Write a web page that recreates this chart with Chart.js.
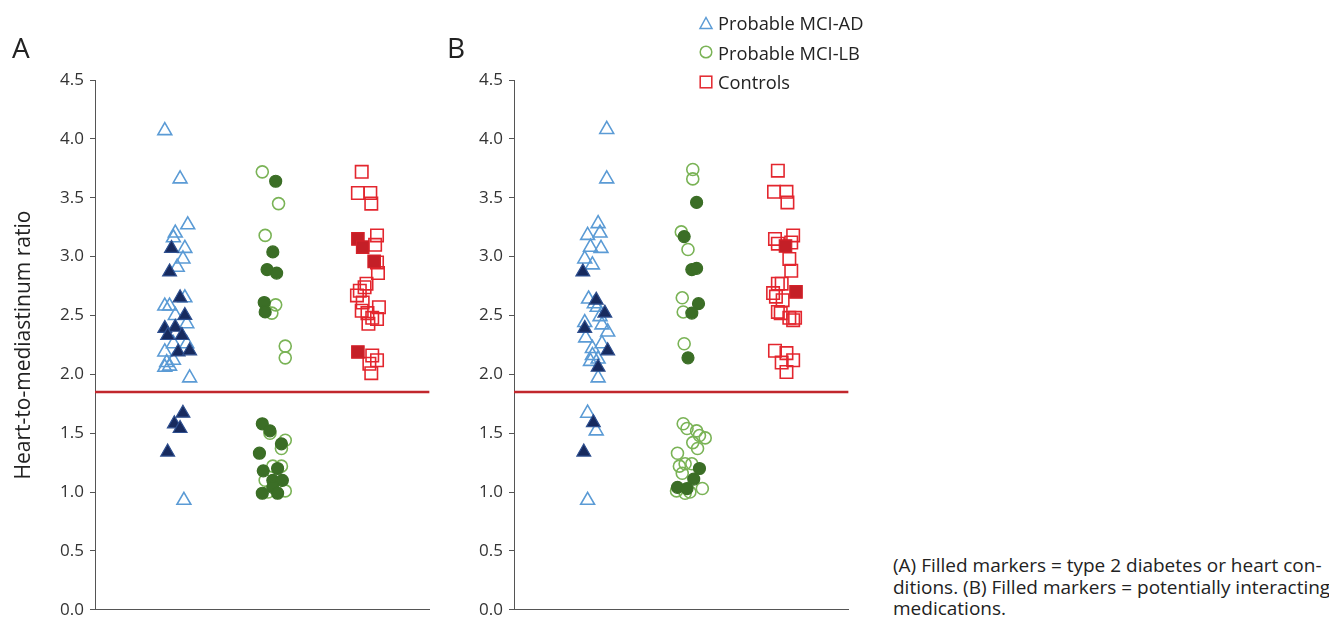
<!DOCTYPE html>
<html><head><meta charset="utf-8">
<script src="https://cdn.jsdelivr.net/npm/chart.js@4.4.1/dist/chart.umd.min.js"></script>
<style>
html,body{margin:0;padding:0;background:#fff;}
body{width:1329px;height:617px;position:relative;overflow:hidden;font-family:"Open Sans",sans-serif;color:#222;}
canvas{position:absolute;top:0;}
#cA{left:0;}
#cB{left:419px;}
.panel{position:absolute;top:30px;font-size:28px;line-height:34px;color:#222;}
#ytitle{position:absolute;left:22px;top:345px;font-size:21px;line-height:24px;color:#222;white-space:nowrap;transform:translate(-50%,-50%) rotate(-90deg);}
#legend{position:absolute;left:698px;top:8px;font-size:18.3px;line-height:29.5px;color:#222;}
#legend div{display:flex;align-items:center;white-space:nowrap;}
#legend svg{width:16px;height:16px;margin-right:4px;}
#note{position:absolute;left:893px;top:555px;font-size:19px;line-height:21.5px;color:#222;white-space:nowrap;}
</style>
</head><body>
<canvas id="cA" width="440" height="626"></canvas>
<canvas id="cB" width="440" height="626"></canvas>
<div class="panel" style="left:12px">A</div>
<div class="panel" style="left:447px">B</div>
<div id="ytitle"></div>
<div id="legend"></div>
<div id="note">(A) Filled markers = type 2 diabetes or heart con-<br>ditions. (B) Filled markers = potentially interacting<br>medications.</div>
<script>
// ---------------- data ----------------
const groupNames = ['Probable MCI-AD', 'Probable MCI-LB', 'Controls'];
const yAxisTitle = 'Heart-to-mediastinum ratio';
const cutoff = 1.85;

// Panel A (filled = type 2 diabetes or heart conditions)
const A_AD_y = [4.07,3.66,3.27,3.20,3.16,3.07,3.07,2.98,2.91,2.87,2.65,2.65,2.58,2.58,2.50,2.50,2.43,2.39,2.40,2.33,2.33,2.26,2.26,2.19,2.20,2.19,2.10,2.06,2.07,2.12,1.97,1.67,1.58,1.54,1.34,0.93];
const A_AD_x = [0.73,0.89,0.97,0.84,0.82,0.80,0.94,0.92,0.86,0.78,0.89,0.94,0.73,0.78,0.84,0.94,0.96,0.73,0.84,0.76,0.91,0.82,0.96,0.87,0.99,0.73,0.75,0.73,0.78,0.82,0.99,0.92,0.83,0.89,0.76,0.93];
const A_AD_f = [0,0,0,0,0,1,0,0,0,1,1,0,0,0,0,1,0,1,1,1,1,0,0,1,1,0,0,0,0,0,0,1,1,1,1,0];

const A_LB_y = [3.72,3.64,3.45,3.18,3.04,2.89,2.86,2.61,2.59,2.53,2.52,2.24,2.14,1.58,1.52,1.50,1.44,1.41,1.37,1.33,1.22,1.18,1.20,1.22,1.10,1.10,1.10,1.04,1.01,0.99,0.99,1.00];
const A_LB_x = [1.75,1.89,1.92,1.78,1.86,1.80,1.90,1.77,1.89,1.78,1.85,1.99,1.99,1.75,1.83,1.83,1.99,1.95,1.95,1.72,1.86,1.76,1.91,1.95,1.78,1.86,1.96,1.86,1.99,1.75,1.91,1.81];
const A_LB_f = [0,1,0,0,1,1,1,1,0,1,0,0,0,1,1,0,0,1,0,1,0,1,1,0,0,1,1,1,0,1,1,0];

const A_CT_y = [3.72,3.54,3.54,3.45,3.18,3.15,3.10,3.08,2.95,2.96,2.86,2.77,2.74,2.71,2.67,2.61,2.57,2.54,2.52,2.48,2.47,2.43,2.19,2.16,2.12,2.09,2.01];
const A_CT_x = [2.79,2.75,2.88,2.89,2.95,2.75,2.93,2.80,2.95,2.92,2.96,2.84,2.82,2.77,2.74,2.80,2.97,2.79,2.85,2.90,2.95,2.86,2.75,2.90,2.95,2.87,2.89];
const A_CT_f = [0,0,0,0,0,1,0,1,0,1,0,0,0,0,0,0,0,0,0,0,0,0,1,0,0,0,0];

// Panel B (filled = potentially interacting medications)
const B_AD_y = [4.08,3.66,3.28,3.18,3.20,3.08,3.07,2.98,2.93,2.87,2.64,2.63,2.57,2.52,2.44,2.39,2.42,2.36,2.31,2.26,2.20,2.16,2.13,2.11,2.06,1.97,1.67,1.59,1.52,1.34,0.93,2.60,2.49,2.22];
const B_AD_x = [0.97,0.97,0.88,0.77,0.90,0.80,0.91,0.74,0.82,0.72,0.78,0.86,0.87,0.95,0.74,0.74,0.92,0.98,0.75,0.92,0.98,0.82,0.88,0.80,0.88,0.88,0.77,0.83,0.86,0.73,0.77,0.84,0.90,0.82];
const B_AD_f = [0,0,0,0,0,0,0,0,0,1,0,1,0,1,0,1,0,0,0,0,1,0,0,0,1,0,0,1,0,1,0,0,0,0];

const B_LB_y = [3.74,3.66,3.46,3.21,3.17,3.06,2.89,2.90,2.65,2.60,2.53,2.52,2.26,2.14,1.58,1.54,1.52,1.48,1.46,1.42,1.37,1.33,1.22,1.24,1.24,1.20,1.16,1.11,1.04,1.03,1.01,1.00,1.03,0.99];
const B_LB_x = [1.87,1.87,1.91,1.75,1.78,1.82,1.86,1.91,1.76,1.93,1.77,1.86,1.78,1.82,1.77,1.81,1.91,1.94,2.00,1.87,1.92,1.71,1.73,1.79,1.86,1.94,1.76,1.88,1.71,1.81,1.70,1.84,1.97,1.79];
const B_LB_f = [0,0,1,0,1,0,1,1,0,1,0,1,0,1,0,0,0,0,0,0,0,0,0,0,0,1,0,1,1,1,0,0,0,0];

const B_CT_y = [3.73,3.55,3.55,3.46,3.15,3.18,3.11,3.12,3.09,2.98,2.88,2.77,2.77,2.69,2.66,2.70,2.63,2.53,2.52,2.48,2.48,2.46,2.20,2.18,2.10,2.12,2.02];
const B_CT_x = [2.76,2.72,2.85,2.86,2.73,2.92,2.76,2.90,2.84,2.88,2.90,2.76,2.80,2.71,2.74,2.95,2.81,2.76,2.79,2.88,2.94,2.92,2.73,2.85,2.80,2.92,2.85];
const B_CT_f = [0,0,0,0,0,0,0,0,1,0,0,0,0,0,0,1,0,0,0,0,0,0,0,0,0,0,0];

// ---------------- styles ----------------
const styles = [
  {shape:'triangle', r:8,   line:'#5b9bd5', fill:'#172a5e', fillBorder:'#2e4f8f'},
  {shape:'circle',   r:6,   line:'#7ab356', fill:'#3b6e26', fillBorder:'#3b6e26'},
  {shape:'rect',     r:8.8, line:'#e3262e', fill:'#c41f27', fillBorder:'#d5222a'}
];
const FONT = '"Open Sans", sans-serif';

function groupSets(ys, xs, fs, st, name) {
  const open = [], filled = [];
  ys.forEach((y, i) => { (fs[i] ? filled : open).push({x: xs[i], y: y}); });
  return [
    {label: name, type:'scatter', data: open, pointStyle: st.shape, pointRadius: st.r, pointHoverRadius: st.r,
     pointBorderWidth: 1.6, pointBackgroundColor: 'rgba(255,255,255,0)', pointBorderColor: st.line, order: 3},
    {label: name + ' (filled)', type:'scatter', data: filled, pointStyle: st.shape, pointRadius: st.r, pointHoverRadius: st.r,
     pointBorderWidth: 1.2, pointBackgroundColor: st.fill, pointBorderColor: st.fillBorder, order: 2}
  ];
}

function makeChart(id, groups) {
  let ds = [];
  groups.forEach((g, k) => { ds = ds.concat(groupSets(g[0], g[1], g[2], styles[k], groupNames[k])); });
  ds.push({label:'cutoff', type:'line', data:[{x:0, y:cutoff}, {x:3.5, y:cutoff}],
           borderColor:'#c1272d', borderWidth:2.5, pointRadius:0, order: 4});
  return new Chart(document.getElementById(id), {
    type: 'scatter',
    data: {datasets: ds},
    options: {
      responsive:false, animation:false, devicePixelRatio:1,
      layout:{padding:{left:0, right:10, top:80, bottom:0}},
      plugins:{legend:{display:false}, tooltip:{enabled:false}},
      scales:{
        x:{type:'linear', min:0, max:3.5,
           ticks:{display:false}, grid:{display:false},
           border:{display:true, color:'#555', width:1},
           afterFit:(s)=>{s.height = 0;}},
        y:{type:'linear', min:0, max:4.5,
           ticks:{stepSize:0.5, padding:6, color:'#333', font:{family:FONT, size:17},
                  callback:(v)=>Number(v).toFixed(1)},
           grid:{display:true, drawOnChartArea:false, drawTicks:true, tickLength:5, color:'#555'},
           border:{display:true, color:'#555', width:1},
           afterFit:(s)=>{s.width = 95;}}
      }
    }
  });
}

makeChart('cA', [[A_AD_y, A_AD_x, A_AD_f], [A_LB_y, A_LB_x, A_LB_f], [A_CT_y, A_CT_x, A_CT_f]]);
makeChart('cB', [[B_AD_y, B_AD_x, B_AD_f], [B_LB_y, B_LB_x, B_LB_f], [B_CT_y, B_CT_x, B_CT_f]]);

document.getElementById('ytitle').textContent = yAxisTitle;

// legend
const icons = [
  '<svg viewBox="0 0 16 16"><polygon points="8,2.5 14,13.5 2,13.5" fill="none" stroke="#5b9bd5" stroke-width="1.5"/></svg>',
  '<svg viewBox="0 0 16 16"><circle cx="8" cy="8" r="5.8" fill="none" stroke="#7ab356" stroke-width="1.5"/></svg>',
  '<svg viewBox="0 0 16 16"><rect x="2.2" y="2.2" width="11.6" height="11.6" fill="none" stroke="#e3262e" stroke-width="1.5"/></svg>'
];
document.getElementById('legend').innerHTML = groupNames.map((n, i) => '<div>' + icons[i] + '<span>' + n + '</span></div>').join('');
</script>
</body></html>
